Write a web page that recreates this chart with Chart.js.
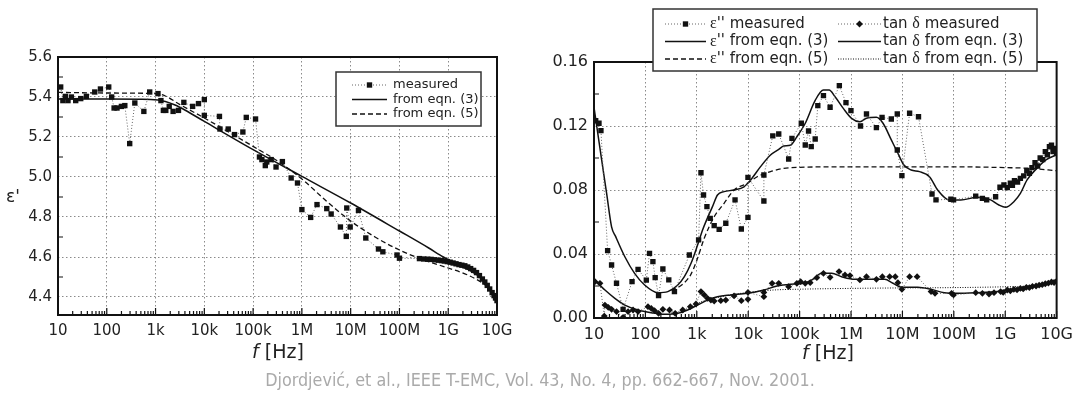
<!DOCTYPE html>
<html>
<head>
<meta charset="utf-8">
<script src="https://cdn.jsdelivr.net/npm/chart.js@4.4.1/dist/chart.umd.min.js"></script>
<style>
  body { margin: 0; background: #fff; width: 1080px; height: 396px; position: relative; overflow: hidden; font-family: "DejaVu Sans", sans-serif; }
  canvas { position: absolute; top: 0; }
  #c1 { left: 0; }
  #c2 { left: 540px; }
  .lab { position: absolute; color: #222; white-space: nowrap; text-align: center; }
  #cap { position: absolute; left: 0; width: 1080px; top: 369px; text-align: center; color: #aaa; font-size: 17.8px;
         font-family: "DejaVu Sans Condensed", "DejaVu Sans", sans-serif; font-stretch: condensed; }
</style>
</head>
<body>
<canvas id="c1" width="540" height="396"></canvas>
<canvas id="c2" width="540" height="396"></canvas>
<div class="lab" style="left:6px;top:186px;font-size:17px">ε'</div>
<div class="lab" style="left:178px;width:200px;top:340px;font-size:19px"><i>f</i> [Hz]</div>
<div class="lab" style="left:728px;width:200px;top:341px;font-size:19px"><i>f</i> [Hz]</div>
<div id="cap">Djordjević, et al., IEEE T-EMC, Vol. 43, No. 4, pp. 662-667, Nov. 2001.</div>
<script>
// frequencies are given as log10(f / Hz)
const xTickLabels = ["10", "100", "1k", "10k", "100k", "1M", "10M", "100M", "1G", "10G"];
const leftYTicks = [4.4, 4.6, 4.8, 5.0, 5.2, 5.4, 5.6];
const rightYTicks = [0, 0.04, 0.08, 0.12, 0.16];

// left: real permittivity
const measF = [1.055, 1.10, 1.15, 1.205, 1.274, 1.363, 1.466, 1.582, 1.753, 1.87, 2.04, 2.10, 2.15, 2.21, 2.30, 2.37, 2.47, 2.575, 2.76, 2.88,
  3.05, 3.11, 3.16, 3.21, 3.28, 3.36, 3.47, 3.58, 3.76, 3.88, 4.0, 4.0, 4.31, 4.32, 4.49, 4.62, 4.79, 4.86, 5.05, 5.13,
  5.18, 5.25, 5.28, 5.37, 5.47, 5.60, 5.78, 5.91, 6.0, 6.18, 6.31, 6.51, 6.60, 6.79, 6.91, 6.92, 6.99, 7.16, 7.31, 7.57,
  7.66, 7.95, 8.0, 8.41, 8.5, 8.58, 8.65, 8.72, 8.8, 8.86, 8.92, 8.98, 9.04, 9.1, 9.16, 9.22, 9.28, 9.34, 9.4, 9.46,
  9.52, 9.58, 9.64, 9.7, 9.75, 9.8, 9.85, 9.9, 9.94, 9.97, 10.0];
const measV = [5.45, 5.382, 5.403, 5.382, 5.40, 5.382, 5.392, 5.403, 5.425, 5.44, 5.45, 5.40, 5.345, 5.345, 5.353, 5.357, 5.167, 5.37, 5.328, 5.425,
  5.417, 5.382, 5.333, 5.333, 5.353, 5.328, 5.333, 5.373, 5.353, 5.367, 5.387, 5.308, 5.303, 5.24, 5.24, 5.212, 5.225, 5.298, 5.29, 5.10,
  5.087, 5.057, 5.075, 5.087, 5.05, 5.077, 4.995, 4.97, 4.837, 4.798, 4.862, 4.842, 4.815, 4.75, 4.703, 4.845, 4.75, 4.833, 4.695, 4.64,
  4.626, 4.61, 4.594, 4.592, 4.590, 4.589, 4.588, 4.586, 4.584, 4.582, 4.580, 4.577, 4.574, 4.570, 4.566, 4.562, 4.559, 4.556, 4.550, 4.542,
  4.533, 4.522, 4.507, 4.490, 4.475, 4.458, 4.440, 4.422, 4.407, 4.395, 4.382];
const eq3F = [1.0, 2.0, 2.9, 3.2, 3.4, 3.6, 4.0, 5.0, 6.0, 7.0, 8.0, 8.6, 8.9, 9.1, 9.3, 9.5, 9.7, 9.85, 10.0];
const eq3V = [5.39, 5.39, 5.388, 5.378, 5.36, 5.335, 5.278, 5.137, 5.003, 4.87, 4.73, 4.645, 4.60, 4.575, 4.55, 4.525, 4.49, 4.44, 4.382];
const eq5F = [1.0, 2.0, 3.0, 3.2, 3.5, 4.0, 5.0, 5.5, 6.0, 6.5, 7.0, 7.5, 8.0, 8.5, 9.0, 9.4, 9.7, 9.85, 10.0];
const eq5V = [5.423, 5.42, 5.417, 5.405, 5.362, 5.295, 5.153, 5.08, 4.99, 4.88, 4.78, 4.70, 4.635, 4.585, 4.545, 4.51, 4.47, 4.44, 4.382];

// right: loss factor and loss tangent
const epsMeasF = [1.033, 1.097, 1.135, 1.265, 1.342, 1.438, 1.566, 1.74, 1.857, 2.018, 2.08, 2.146, 2.19, 2.256, 2.34, 2.455, 2.565, 2.855, 3.035, 3.081,
  3.131, 3.197, 3.261, 3.338, 3.435, 3.564, 3.744, 3.866, 3.995, 3.995, 4.305, 4.305, 4.478, 4.594, 4.787, 4.851, 5.033, 5.11, 5.174, 5.226,
  5.303, 5.354, 5.464, 5.593, 5.773, 5.902, 5.999, 6.185, 6.301, 6.494, 6.604, 6.784, 6.9, 6.9, 6.99, 7.14, 7.313, 7.576, 7.653, 7.943,
  7.995, 8.426, 8.556, 8.639, 8.813, 8.898, 8.975, 9.04, 9.10, 9.14, 9.18, 9.24, 9.295, 9.36, 9.42, 9.47, 9.52, 9.58, 9.63, 9.68,
  9.73, 9.78, 9.82, 9.86, 9.9, 9.93, 9.96, 10.0];
const epsMeasV = [0.1233, 0.1217, 0.1171, 0.0421, 0.0331, 0.0217, 0.0054, 0.0227, 0.0304, 0.0237, 0.0404, 0.0352, 0.0252, 0.0140, 0.0306, 0.0238, 0.0165, 0.0394, 0.0488, 0.0908,
  0.0769, 0.0696, 0.0623, 0.0577, 0.0554, 0.0592, 0.0738, 0.0556, 0.0629, 0.0879, 0.0731, 0.0894, 0.1138, 0.115, 0.0994, 0.1123, 0.1217, 0.1081, 0.1169, 0.1071,
  0.1119, 0.1327, 0.139, 0.1317, 0.1452, 0.1346, 0.1296, 0.12, 0.1275, 0.119, 0.1254, 0.1244, 0.1275, 0.105, 0.089, 0.128, 0.1258, 0.0775, 0.0738, 0.0742,
  0.0738, 0.0762, 0.0748, 0.0738, 0.0758, 0.0817, 0.0831, 0.0815, 0.0842, 0.083, 0.0858, 0.085, 0.0873, 0.0888, 0.092, 0.0905, 0.094, 0.097, 0.095, 0.1,
  0.099, 0.104, 0.102, 0.107, 0.108, 0.104, 0.106, 0.103];
const epsEq3F = [1.0, 1.149, 1.245, 1.342, 1.42, 1.6, 1.79, 1.985, 2.243, 2.436, 2.63, 2.758, 2.888, 3.015, 3.112, 3.2, 3.305, 3.402, 3.531, 3.725,
  3.918, 4.047, 4.24, 4.434, 4.594, 4.69, 4.82, 4.947, 5.11, 5.303, 5.464, 5.574, 5.69, 5.85, 6.01, 6.173, 6.301, 6.494, 6.623, 6.784,
  6.913, 7.029, 7.17, 7.332, 7.526, 7.686, 7.912, 8.136, 8.459, 8.716, 8.878, 9.006, 9.168, 9.295, 9.425, 9.6, 9.8, 10.0];
const epsEq3V = [0.1317, 0.0988, 0.078, 0.057, 0.051, 0.0383, 0.0279, 0.0206, 0.0158, 0.0165, 0.0206, 0.0258, 0.0342, 0.0456, 0.055, 0.062, 0.0696, 0.0769, 0.079, 0.08,
  0.082, 0.0863, 0.0946, 0.1019, 0.1054, 0.1075, 0.108, 0.1133, 0.1217, 0.136, 0.1425, 0.1425, 0.1383, 0.131, 0.1248, 0.1227, 0.1248, 0.1254, 0.1217, 0.1113,
  0.1029, 0.0956, 0.0925, 0.0915, 0.0883, 0.08, 0.0738, 0.0738, 0.0754, 0.0738, 0.0706, 0.0692, 0.0727, 0.0779, 0.0863, 0.093, 0.099, 0.102];
const epsEq5F = [2.5, 2.7, 2.88, 3.0, 3.145, 3.338, 3.531, 3.725, 3.982, 4.175, 4.434, 4.69, 5.0, 6.0, 7.0, 8.0, 9.0, 9.5, 10.0];
const epsEq5V = [0.0175, 0.0205, 0.027, 0.036, 0.0498, 0.0633, 0.0717, 0.08, 0.0842, 0.0883, 0.0915, 0.0935, 0.0942, 0.0945, 0.0945, 0.0945, 0.094, 0.0935, 0.092];

const tanMeasF = [1.02, 1.116, 1.2, 1.213, 1.277, 1.342, 1.438, 1.566, 1.663, 1.76, 1.857, 2.05, 2.115, 2.179, 2.256, 2.34, 2.469, 2.579, 2.726, 2.874,
  2.984, 3.081, 3.145, 3.209, 3.274, 3.338, 3.467, 3.564, 3.725, 3.866, 3.995, 3.995, 4.305, 4.305, 4.465, 4.594, 4.787, 4.947, 5.02, 5.11,
  5.206, 5.335, 5.464, 5.593, 5.767, 5.883, 5.98, 6.173, 6.301, 6.494, 6.61, 6.752, 6.861, 6.913, 6.99, 7.14, 7.286, 7.557, 7.634, 7.956,
  7.995, 8.426, 8.556, 8.685, 8.782, 8.91, 8.96, 9.04, 9.1, 9.168, 9.23, 9.295, 9.35, 9.411, 9.47, 9.53, 9.6, 9.66, 9.72, 9.78,
  9.84, 9.9, 9.95, 10.0];
const tanMeasV = [0.0227, 0.0217, 0.0012, 0.0081, 0.0067, 0.0054, 0.004, 0.0004, 0.004, 0.005, 0.004, 0.0071, 0.006, 0.0046, 0.0029, 0.0054, 0.005, 0.0029, 0.005, 0.0071,
  0.0088, 0.0165, 0.0144, 0.0123, 0.0112, 0.0106, 0.0108, 0.0112, 0.0138, 0.0108, 0.0117, 0.016, 0.0133, 0.016, 0.0217, 0.0217, 0.0196, 0.0217, 0.0227, 0.0217,
  0.0221, 0.0252, 0.0279, 0.0254, 0.029, 0.0269, 0.0265, 0.0238, 0.0258, 0.0242, 0.0258, 0.0258, 0.0258, 0.0221, 0.0179, 0.0258, 0.0258, 0.0165, 0.0154, 0.0154,
  0.0144, 0.0158, 0.0154, 0.015, 0.0158, 0.0165, 0.016, 0.0175, 0.017, 0.0179, 0.0176, 0.0185, 0.0182, 0.0192, 0.019, 0.0198, 0.02, 0.0205, 0.0208, 0.0214,
  0.0218, 0.0225, 0.0222, 0.023];
const tanEq3F = [1.0, 1.213, 1.406, 1.6, 1.857, 2.115, 2.372, 2.63, 2.822, 3.015, 3.209, 3.402, 3.66, 3.982, 4.305, 4.562, 4.82, 5.077, 5.238, 5.431,
  5.624, 5.817, 6.076, 6.398, 6.655, 6.816, 6.99, 7.3, 7.557, 7.815, 8.072, 8.459, 8.845, 9.168, 9.425, 9.7, 10.0];
const tanEq3V = [0.024, 0.0175, 0.0123, 0.0081, 0.005, 0.0033, 0.0023, 0.0029, 0.005, 0.0081, 0.0112, 0.0133, 0.0144, 0.0154, 0.0175, 0.02, 0.0211, 0.0217, 0.0238, 0.0279,
  0.0279, 0.0258, 0.0242, 0.0242, 0.0242, 0.0217, 0.0192, 0.0192, 0.0179, 0.0158, 0.0154, 0.0158, 0.0165, 0.0179, 0.0192, 0.0208, 0.023];
const tanEq5F = [2.5, 2.8, 3.0, 3.5, 4.0, 4.5, 5.0, 6.0, 7.0, 8.0, 9.0, 9.5, 10.0];
const tanEq5V = [0.003, 0.005, 0.009, 0.0135, 0.016, 0.0175, 0.018, 0.0185, 0.0188, 0.019, 0.0195, 0.02, 0.022];

const FONT = "DejaVu Sans";
const pts = (f, v) => f.map((e, i) => ({ x: Math.pow(10, e), y: v[i] }));
const decades = xTickLabels.map((_, i) => Math.pow(10, i + 1));

function drawText(ctx, text, x, y, size) {
  // greek letters in a serif face, like the original
  text.split(/([εδ])/).forEach(part => {
    if (!part) return;
    ctx.font = (/[εδ]/.test(part) ? size + 1 + "px 'Liberation Serif'" : size + "px '" + FONT + "'");
    ctx.fillText(part, x, y);
    x += ctx.measureText(part).width;
  });
}

function marker(ctx, style, x, y, r) {
  ctx.beginPath();
  if (style === "rect") {
    const s = r * Math.SQRT1_2;
    ctx.rect(x - s, y - s, 2 * s, 2 * s);
  } else {
    ctx.moveTo(x - r, y); ctx.lineTo(x, y - r); ctx.lineTo(x + r, y); ctx.lineTo(x, y + r); ctx.closePath();
  }
  ctx.fill();
}

const boxPlugin = {
  id: "box",
  afterDraw(chart, args, o) {
    const { ctx, chartArea: a, scales } = chart;
    ctx.save();
    ctx.strokeStyle = "#111";
    ctx.lineWidth = 1.2;
    ctx.beginPath();
    decades.forEach(d => {
      for (let k = 1; k <= 9; k++) {
        const v = d * k;
        if (v > 1e10) break;
        const px = scales.x.getPixelForValue(v);
        ctx.moveTo(px, a.bottom);
        ctx.lineTo(px, a.bottom - (k === 1 ? 7 : 4));
      }
    });
    o.yMinor.forEach(v => {
      const py = scales.y.getPixelForValue(v);
      ctx.moveTo(a.left, py);
      ctx.lineTo(a.left + 5, py);
    });
    ctx.stroke();
    ctx.lineWidth = 2;
    ctx.strokeRect(a.left, a.top, a.right - a.left, a.bottom - a.top);

    // legend
    const L = o.legend;
    ctx.fillStyle = "#fff";
    ctx.fillRect(L.x, L.y, L.w, L.h);
    ctx.strokeStyle = "#333";
    ctx.lineWidth = 1.5;
    ctx.strokeRect(L.x, L.y, L.w, L.h);
    ctx.textBaseline = "middle";
    chart.data.datasets.forEach((ds, i) => {
      const col = L.cols[Math.floor(i / L.rows.length)];
      const y = L.rows[i % L.rows.length];
      ctx.strokeStyle = ds.borderColor;
      ctx.lineWidth = ds.borderWidth;
      ctx.setLineDash(ds.borderDash || []);
      ctx.beginPath();
      ctx.moveTo(col[0], y);
      ctx.lineTo(col[1], y);
      ctx.stroke();
      ctx.setLineDash([]);
      if (ds.pointRadius > 0) {
        ctx.fillStyle = ds.pointBackgroundColor;
        marker(ctx, ds.pointStyle, (col[0] + col[1]) / 2, y, ds.pointRadius);
      }
      ctx.fillStyle = "#222";
      drawText(ctx, ds.label, col[2], y, L.size);
    });
    ctx.restore();
  }
};

function axes(yMin, yMax, yTicks, yFmt, yWidth, size) {
  const grid = { color: "#8a8a8a", lineWidth: 1, drawTicks: false };
  const border = { display: false, dash: [1.5, 2.5] };
  const ticks = { color: "#222", font: { family: FONT, size: size }, autoSkip: false, maxRotation: 0 };
  return {
    x: {
      type: "logarithmic", min: 10, max: 1e10, grid, border,
      afterBuildTicks: s => { s.ticks = decades.map(v => ({ value: v })); },
      afterFit: s => { s.height = 30; },
      ticks: Object.assign({ padding: 7, callback: (v, i) => xTickLabels[i] }, ticks)
    },
    y: {
      min: yMin, max: yMax, grid, border,
      afterBuildTicks: s => { s.ticks = yTicks.map(v => ({ value: v })); },
      afterFit: s => { s.width = yWidth; },
      ticks: Object.assign({ padding: 6, callback: v => v.toFixed(yFmt) }, ticks)
    }
  };
}

const measured = (label, data, style) => ({
  label, data, borderColor: "#666", borderWidth: 1, borderDash: [1, 2], tension: 0,
  pointStyle: style, pointRadius: style === "rect" ? 3.8 : 3.4, pointBackgroundColor: "#111", pointBorderWidth: 0
});
const fit = (label, data, dash, width) => ({
  label, data, borderColor: "#111", borderWidth: width, borderDash: dash, pointRadius: 0, cubicInterpolationMode: "monotone"
});

new Chart(document.getElementById("c1"), {
  type: "line",
  data: {
    datasets: [
      measured("measured", pts(measF, measV), "rect"),
      fit("from eqn. (3)", pts(eq3F, eq3V), [], 1.5),
      fit("from eqn. (5)", pts(eq5F, eq5V), [5, 3], 1.3)
    ]
  },
  options: {
    responsive: false,
    animation: false,
    layout: { padding: { left: 0, top: 57, right: 43, bottom: 51 } },
    plugins: {
      legend: { display: false },
      tooltip: { enabled: false },
      box: {
        yMinor: [4.5, 4.7, 4.9, 5.1, 5.3, 5.5],
        legend: { x: 336, y: 72, w: 145, h: 54, rows: [85, 99.5, 114], cols: [[352, 387, 393]], size: 13 }
      }
    },
    scales: axes(4.31, 5.6, leftYTicks, 1, 58, 15)
  },
  plugins: [boxPlugin]
});

new Chart(document.getElementById("c2"), {
  type: "line",
  data: {
    datasets: [
      measured("ε'' measured", pts(epsMeasF, epsMeasV), "rect"),
      fit("ε'' from eqn. (3)", pts(epsEq3F, epsEq3V), [], 1.5),
      fit("ε'' from eqn. (5)", pts(epsEq5F, epsEq5V), [5, 3], 1.3),
      measured("tan δ measured", pts(tanMeasF, tanMeasV), "rectRot"),
      fit("tan δ from eqn. (3)", pts(tanEq3F, tanEq3V), [], 1.5),
      fit("tan δ from eqn. (5)", pts(tanEq5F, tanEq5V), [1, 1.5], 1)
    ]
  },
  options: {
    responsive: false,
    animation: false,
    layout: { padding: { left: 0, top: 62, right: 20, bottom: 48 } },
    plugins: {
      legend: { display: false },
      tooltip: { enabled: false },
      box: {
        yMinor: [0.02, 0.06, 0.10, 0.14],
        legend: { x: 113, y: 9, w: 384, h: 62, rows: [24, 41.5, 59], cols: [[125, 166, 170], [298, 341, 343]], size: 15 }
      }
    },
    scales: axes(0, 0.16, rightYTicks, 2, 54, 16)
  },
  plugins: [boxPlugin]
});
</script>
</body>
</html>
